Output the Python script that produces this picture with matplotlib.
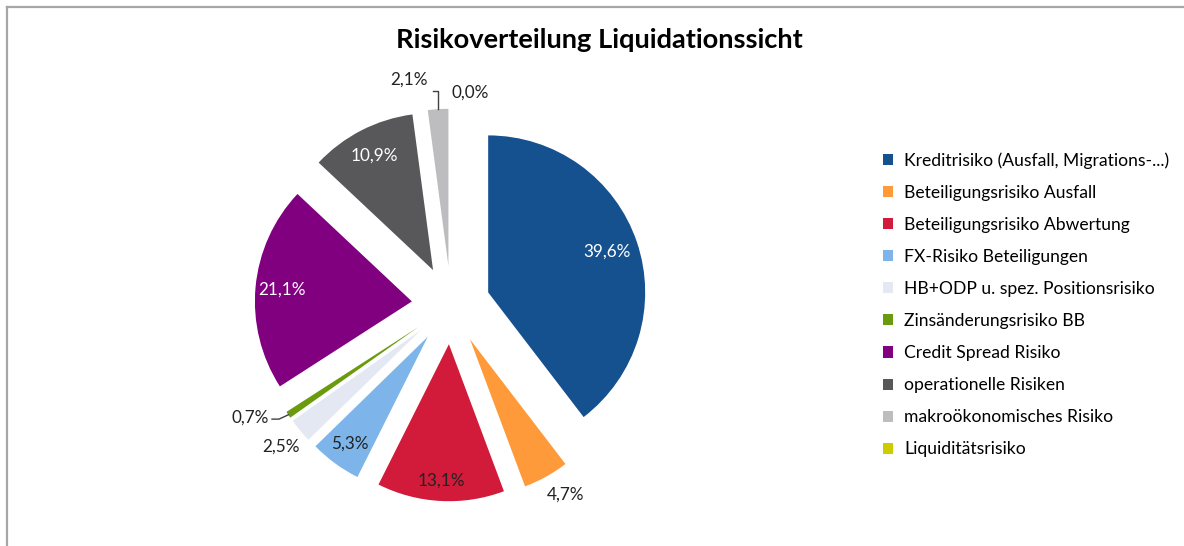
import matplotlib.pyplot as plt
import numpy as np
from matplotlib.lines import Line2D

# Daten
kategorien = [
    "Kreditrisiko (Ausfall, Migrations-...)",
    "Beteiligungsrisiko Ausfall",
    "Beteiligungsrisiko Abwertung",
    "FX-Risiko Beteiligungen",
    "HB+ODP u. spez. Positionsrisiko",
    "Zinsänderungsrisiko BB",
    "Credit Spread Risiko",
    "operationelle Risiken",
    "makroökonomisches Risiko",
    "Liquiditätsrisiko",
]
anteile = [39.6, 4.7, 13.1, 5.3, 2.5, 0.7, 21.1, 10.9, 2.1, 0.0]
beschriftungen = ["39,6%", "4,7%", "13,1%", "5,3%", "2,5%", "0,7%", "21,1%", "10,9%", "2,1%", "0,0%"]

farben = ["#15508F", "#FF9A3A", "#D21A3A", "#7DB5EA", "#E3E8F2",
          "#6A9A0E", "#800080", "#58585A", "#BDBDC0", "#CCCC00"]

# Position der Beschriftungen: Abstand (in Radien) und Winkelkorrektur (Grad)
label_r = [0.80, 1.16, 0.87, 0.84, 1.16, 1.22, 0.83, 0.82, 1.21, 1.11]
label_dw = [0, 2.5, 0, 0, 0, -5.6, 0, 0, 8.3, -6.2]
label_farbe = ["white", "#222222", "#222222", "#222222", "#222222",
               "#222222", "white", "white", "#222222", "#222222"]

plt.rcParams['font.family'] = ['Lato', 'DejaVu Sans']

W, H = 1184, 546
fig = plt.figure(figsize=(W / 100, H / 100), dpi=100)

# Rahmen (oben und links)
fig.add_artist(Line2D([7 / W, 1], [1 - 7 / H, 1 - 7 / H], color="#A6A6A6", lw=1.6))
fig.add_artist(Line2D([7 / W, 7 / W], [0, 1 - 7 / H], color="#A6A6A6", lw=1.6))

# Achse so legen, dass 1 Dateneinheit = 157 px, Mittelpunkt bei (451, 305)
R = 157.0
cx, cy = 451.0, 305.0
half_w, half_h = 300.0, 240.0
ax = fig.add_axes([(cx - half_w) / W, (H - cy - half_h) / H, 2 * half_w / W, 2 * half_h / H])

wedges, _ = ax.pie(anteile, colors=farben, startangle=90, counterclock=False,
                   explode=[0.25] * len(anteile), radius=1.0,
                   wedgeprops=dict(linewidth=0))
ax.set_aspect('auto')
ax.set_xlim(-half_w / R, half_w / R)
ax.set_ylim(-half_h / R, half_h / R)
ax.axis('off')

for i, w in enumerate(wedges):
    mid = np.deg2rad((w.theta1 + w.theta2) / 2 + label_dw[i])
    ex, ey = w.center
    tx = ex + label_r[i] * np.cos(mid)
    ty = ey + label_r[i] * np.sin(mid)
    ax.text(tx, ty, beschriftungen[i], ha='center', va='center',
            fontsize=12.3, color=label_farbe[i])

# Führungslinien für kleine Segmente
px = 1.0 / R
for i in [5, 8]:
    w = wedges[i]
    mid = np.deg2rad((w.theta1 + w.theta2) / 2)
    ex, ey = w.center
    ax_ = ex + np.cos(mid)
    ay_ = ey + np.sin(mid)
    m2 = np.deg2rad((w.theta1 + w.theta2) / 2 + label_dw[i])
    tx = ex + label_r[i] * np.cos(m2)
    ty = ey + label_r[i] * np.sin(m2)
    if i == 5:
        xs = [ax_, tx + 29 * px, tx + 22 * px]
        ys = [ay_, ty - 1 * px, ty - 1 * px]
    else:
        xs = [ax_, ax_, tx + 24 * px]
        ys = [ay_, ty - 11 * px, ty - 11 * px]
    ax.plot(xs, ys, color="#404040", lw=1.0)

fig.text(599 / W, 1 - 40 / H, "Risikoverteilung Liquidationssicht",
         ha='center', va='center', fontsize=19.6, fontweight='bold', color='black')

fig.legend(wedges, kategorien, loc='upper left', bbox_to_anchor=(883 / W, 1 - 152 / H),
           frameon=False, fontsize=12.6, handlelength=0.6, handleheight=0.6,
           handletextpad=0.6, labelspacing=0.92, borderaxespad=0, borderpad=0)

plt.savefig("out.png", dpi=100)
